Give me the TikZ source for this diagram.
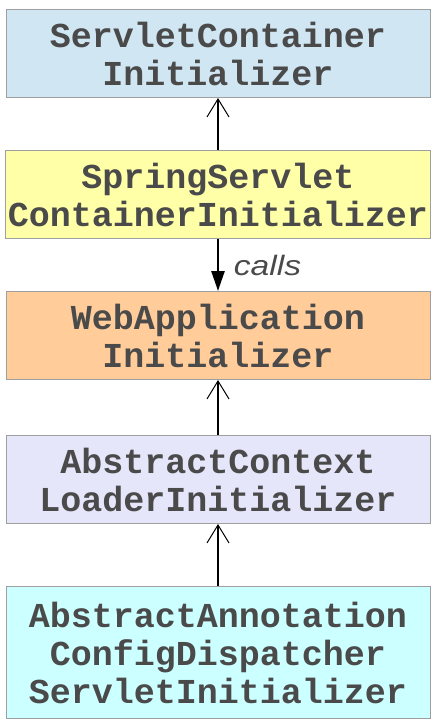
\documentclass[tikz,border=0pt]{standalone}
\usepackage{fontspec}
\setmonofont{Liberation Mono}
\setsansfont{Liberation Sans}
\usetikzlibrary{positioning,arrows.meta}
\definecolor{boxblue}{HTML}{D0E6F2}
\definecolor{boxyellow}{HTML}{FFFFA8}
\definecolor{boxpeach}{HTML}{FFCC9A}
\definecolor{boxlavender}{HTML}{E6E6FA}
\definecolor{boxcyan}{HTML}{CCFFFF}
\definecolor{textgray}{HTML}{4A4A4A}

\begin{document}
\begin{tikzpicture}[
  x=1pt, y=1pt,
  cls/.style={rectangle, draw=gray!75, line width=1pt, minimum width=424pt, minimum height=88pt,
    align=center, inner sep=2pt, text=textgray, font=\fontsize{35}{38}\selectfont\ttfamily\bfseries},
  node distance=52pt,
  inherit/.style={line width=2.5pt, -{Straight Barb[length=18pt, width=22pt, line width=1pt]}},
  call/.style={line width=2.5pt, -{Triangle[length=20pt, width=13pt]}}
]
\useasboundingbox (0,0) rectangle (442,-728);

\node[cls, fill=boxblue] (container) at (218,-53.5) {ServletContainer\\Initializer};
\node[cls, fill=boxyellow, below=of container] (springinit) {SpringServlet\\ContainerInitializer};
\node[cls, fill=boxpeach, below=of springinit] (webinit) {WebApplication\\Initializer};
\node[cls, fill=boxlavender, below=55pt of webinit] (ctxloader) {AbstractContext\\LoaderInitializer};
\node[cls, fill=boxcyan, below=62pt of ctxloader, minimum height=132pt] (dispatcher) {AbstractAnnotation\\ConfigDispatcher\\ServletInitializer};

\draw[inherit] (springinit) -- (container);
\draw[call] (springinit) -- node[right, inner sep=12pt, xscale=1.2, transform shape, text=textgray, font=\fontsize{28}{30}\selectfont\sffamily\itshape] {calls} (webinit);
\draw[inherit] (ctxloader) -- (webinit);
\draw[inherit] (dispatcher) -- (ctxloader);
\end{tikzpicture}
\end{document}
